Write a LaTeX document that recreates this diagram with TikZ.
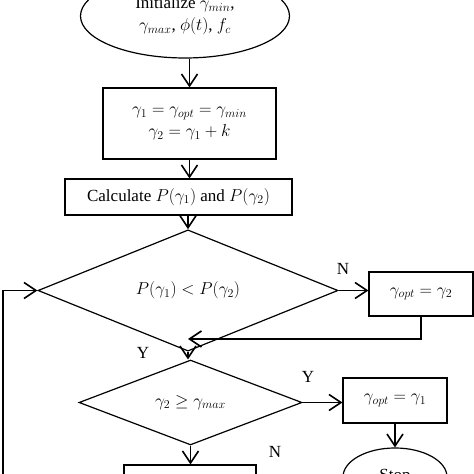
\documentclass[tikz,border=0pt]{standalone}
\usepackage{fontspec}
\setmainfont{Liberation Serif}
\usetikzlibrary{positioning,arrows.meta,shapes.geometric}

\begin{document}
\begin{tikzpicture}[x=1pt,y=1pt,
  font=\fontsize{17}{22}\selectfont,
  box/.style={draw,rectangle,line width=1.2pt,inner sep=0pt,align=center},
  decision/.style={draw,diamond,line width=1.2pt,inner sep=0pt},
  term/.style={draw,ellipse,line width=1.2pt,inner sep=0pt,align=center},
  arr/.style={line width=1.6pt,-{Straight Barb[length=12pt,width=16pt,line width=1.6pt]}}]
\useasboundingbox (0,0) rectangle (474,474);
\clip (0,0) rectangle (474,474);

% Start
\node[term,minimum width=209pt,minimum height=84pt] (init) at (185,458) {Initialize $\gamma_{min}$,\\$\gamma_{max}$, $\phi(t)$, $f_c$};

% Initial values
\node[box,minimum width=173pt,minimum height=71pt] (setg) at (189.5,350.5) {$\gamma_1=\gamma_{opt}=\gamma_{min}$\\$\gamma_2=\gamma_1+k$};

% Calculate
\node[box,minimum width=227pt,minimum height=36pt] (calc) at (178.5,277) {Calculate $P(\gamma_1)$ and $P(\gamma_2)$};

% Compare
\node[decision,minimum width=300pt,minimum height=73pt] (cmp) at (188,183.5) {$P(\gamma_1)<P(\gamma_2)$};
\node[box,minimum width=104pt,minimum height=44pt] (opt2) at (421,180) {$\gamma_{opt}=\gamma_2$};

% Check max
\node[decision,minimum width=223pt,minimum height=79pt] (chk) at (190.5,71.5) {$\gamma_2\geq\gamma_{max}$};
\node[box,minimum width=104pt,minimum height=45pt] (opt1) at (395,73.5) {$\gamma_{opt}=\gamma_1$};

% Stop
\node[term,minimum width=104pt,minimum height=58pt] (stop) at (395,-3) {Stop};

% Update
\node[box,minimum width=132pt,minimum height=40pt] (upd) at (190,-11) {};

% Labels
\node (n1) at (343,205) {N};
\node (y1) at (143,121) {Y};
\node (y2) at (308,97) {Y};
\node (n2) at (275,22) {N};

% Arrows
\draw[arr] (init.south -| setg.north) -- (setg.north);
\draw[arr] (setg.south) -- (setg.south |- calc.north);
\draw[arr] (calc.south -| cmp.north) -- (cmp.north);
\draw[arr] (cmp.east) -- (cmp.east -| opt2.west);
\draw[arr] (cmp.south) -- (cmp.south |- chk.north);
\draw[arr] (chk.east) -- (chk.east -| opt1.west);
\draw[arr] (opt1) -- (stop);
\draw[arr] (chk.south) -- (chk.south |- upd.north);

% Merge and loop
\coordinate (merge) at (cmp.south |- 0,135);
\draw[arr] (opt2.south) |- (merge);
\coordinate (back) at (3,-20);
\draw[arr] (back) |- (cmp.west);
\end{tikzpicture}
\end{document}
